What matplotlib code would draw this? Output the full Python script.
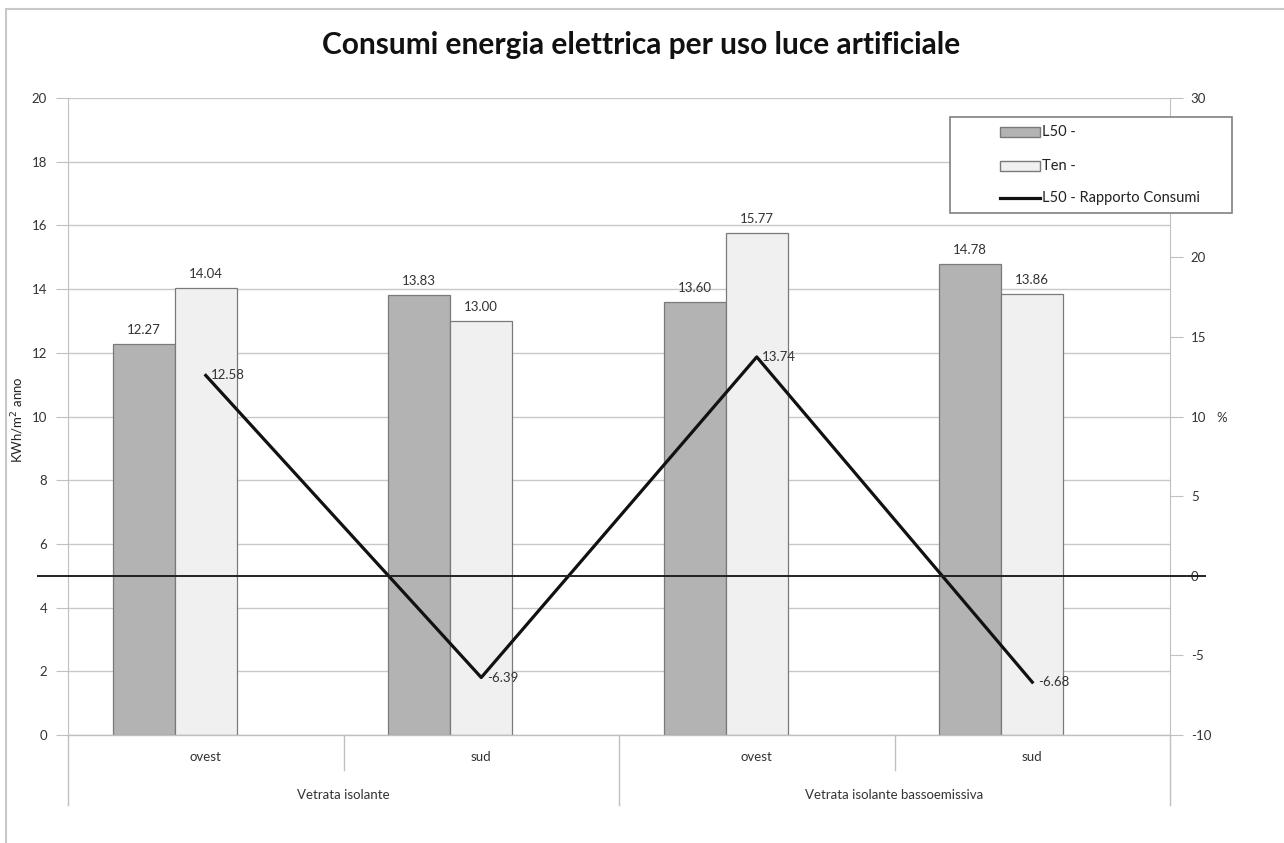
import matplotlib
matplotlib.use("Agg")
import matplotlib.pyplot as plt
from matplotlib.lines import Line2D
from matplotlib.patches import Rectangle
import numpy as np

plt.rcParams['font.family'] = ['Lato', 'DejaVu Sans']
plt.rcParams['axes.unicode_minus'] = False

subcats = ["ovest", "sud", "ovest", "sud"]
groups = ["Vetrata isolante", "Vetrata isolante bassoemissiva"]
l50 = [12.27, 13.83, 13.60, 14.78]
ten = [14.04, 13.00, 15.77, 13.86]
ratio = [12.58, -6.39, 13.74, -6.68]
series_names = ["L50 -", "Ten -", "L50 - Rapporto Consumi"]

C_L50 = '#b3b3b3'
C_TEN = '#f0f0f0'
C_EDGE = '#7a7a7a'
C_LINE = '#111111'

W, H = 1284, 843
fig = plt.figure(figsize=(W/100, H/100), dpi=100)
L, R, T, B = 68, 1170, 98, 735
ax = fig.add_axes([L/W, 1-B/H, (R-L)/W, (B-T)/H])
ax2 = ax.twinx()

def fx(px):
    return px / W

def fy(py):
    return 1 - py / H

# outer border
fig.patches.append(Rectangle((fx(6), -0.1), 1.2, fy(9) + 0.1, transform=fig.transFigure,
                             fill=False, edgecolor='#c8c8c8', linewidth=1.5))

x = np.arange(len(subcats)) + 0.5
bw = 0.225
ax.bar(x - bw, l50, width=bw, color=C_L50, edgecolor=C_EDGE, linewidth=0.9, zorder=3)
ax.bar(x, ten, width=bw, color=C_TEN, edgecolor=C_EDGE, linewidth=0.9, zorder=3)
for xi, v in zip(x - bw, l50):
    ax.text(xi, v + 0.25, f"{v:.2f}", ha='center', va='bottom', fontsize=9.5, color='#333333')
for xi, v in zip(x, ten):
    ax.text(xi, v + 0.25, f"{v:.2f}", ha='center', va='bottom', fontsize=9.5, color='#333333')

ax.set_xlim(0, 4)
ax.set_ylim(0, 20)
ax.set_yticks(np.arange(0, 21, 2))
ax.grid(axis='y', color='#c8c8c8', linewidth=1.0, zorder=0)
ax.set_axisbelow(True)
ax.set_xticks([])
for s in ['top', 'right', 'bottom']:
    ax.spines[s].set_visible(False)
ax.spines['left'].set_color('#c0c0c0')
ax.tick_params(axis='y', length=9, color='#c0c0c0', labelsize=9.5, labelcolor='#333333', pad=6)
fig.text(fx(18), fy(420), "KWh/m$^2$ anno", rotation=90, fontsize=9.5, color='#222222',
         ha='center', va='center')

ax2.set_ylim(-10, 30)
ax2.set_yticks(np.arange(-10, 31, 5))
for s in ['top', 'left', 'bottom']:
    ax2.spines[s].set_visible(False)
ax2.spines['right'].set_color('#c0c0c0')
ax2.tick_params(axis='y', length=9, color='#c0c0c0', labelsize=9.5, labelcolor='#333333', pad=6)
ax2.plot(x, ratio, color=C_LINE, linewidth=2.3, zorder=5)
for xi, v in zip(x, ratio):
    ax2.text(xi + 0.02, v, f"{v:.2f}", ha='left', va='center', fontsize=9.5, color='#333333')
# zero line of secondary axis
ax2.plot([-0.027, 1.032], [0, 0], transform=ax2.get_yaxis_transform(), color='#222222',
         linewidth=1.4, clip_on=False, zorder=6)
fig.text(fx(1222), fy(418), "%", fontsize=9.5, color='#333333', ha='center', va='center')

# category axis
ax.plot([0, 4], [0, 0], color='#c0c0c0', linewidth=1.0, clip_on=False, zorder=4)
tr = ax.get_xaxis_transform()
for xv, depth in [(0, 805), (1, 770), (2, 805), (3, 770), (4, 805)]:
    ax.plot([xv, xv], [0, -(depth - B)/(B - T)], transform=tr, color='#c0c0c0',
            linewidth=1.0, clip_on=False)
for xi, lab in zip(x, subcats):
    ax.text(xi, -(757 - B)/(B - T), lab, transform=tr, ha='center', va='center',
            fontsize=9.5, color='#333333')
for gi, g in enumerate(groups):
    ax.text(1 + 2*gi, -(795 - B)/(B - T), g, transform=tr, ha='center', va='center',
            fontsize=9.5, color='#333333')

fig.text(fx(641), fy(45), "Consumi energia elettrica per uso luce artificiale",
         fontsize=21.5, fontweight='bold', ha='center', va='center', color='#111111')

# legend (drawn as a box with entries)
fig.patches.append(Rectangle((fx(950), fy(213)), fx(1232) - fx(950), fy(117) - fy(213),
                             transform=fig.transFigure, facecolor='white',
                             edgecolor='#808080', linewidth=1.2, zorder=10))
entry_y = [132, 166, 198]
styles = [('bar', C_L50), ('bar', C_TEN), ('line', C_LINE)]
for (kind, col), yy, name in zip(styles, entry_y, series_names):
    if kind == 'bar':
        fig.patches.append(Rectangle((fx(1000), fy(yy + 5)), fx(40), 10 / H,
                                     transform=fig.transFigure, facecolor=col,
                                     edgecolor=C_EDGE, linewidth=1.0, zorder=11))
    else:
        fig.lines.append(Line2D([fx(1000), fx(1040)], [fy(yy), fy(yy)],
                                transform=fig.transFigure, color=col, linewidth=2.3, zorder=11))
    fig.text(fx(1042), fy(yy), name, fontsize=10.5, color='#222222', ha='left', va='center',
             zorder=12)

fig.savefig("out.png", dpi=100, facecolor='white')
